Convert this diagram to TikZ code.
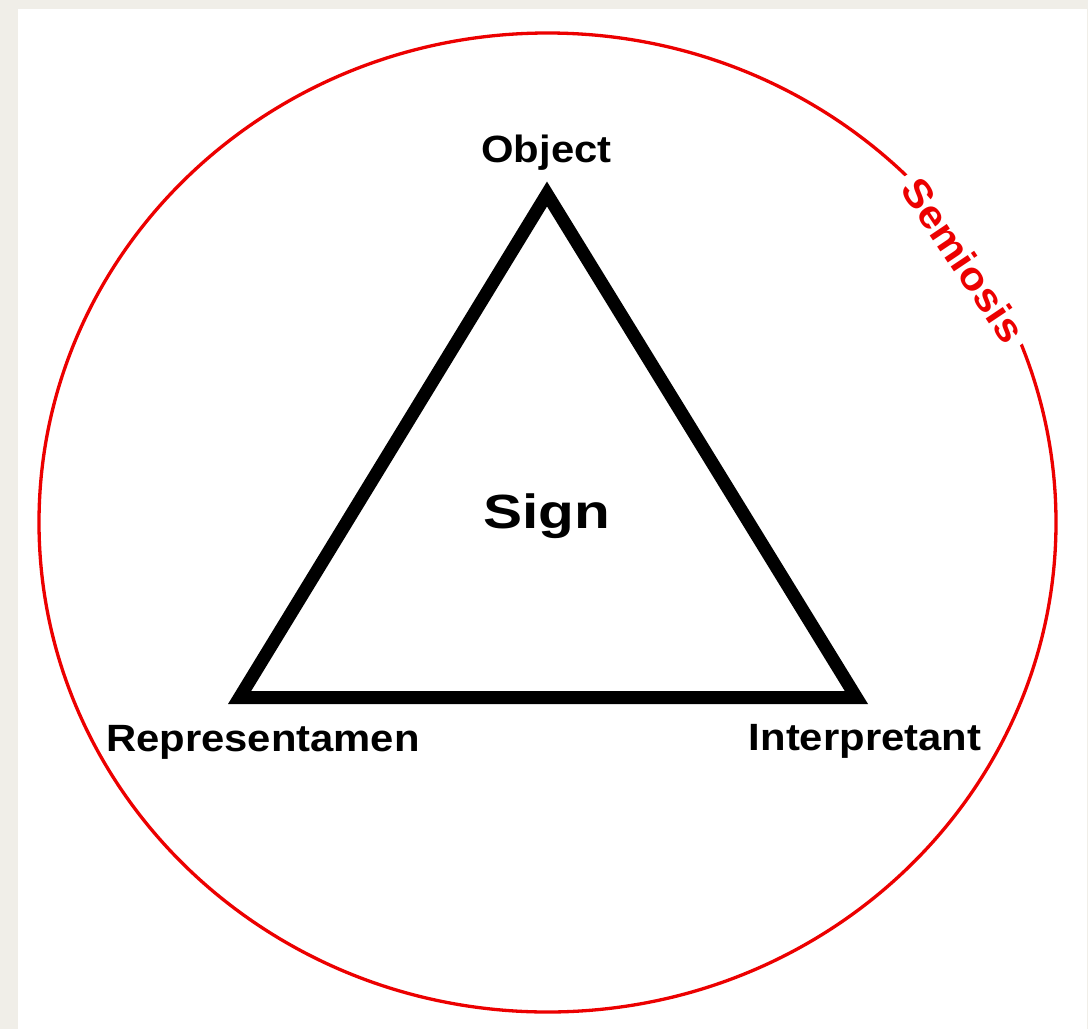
\documentclass[tikz,border=0pt]{standalone}
\usepackage{fontspec}
\setmainfont{Liberation Sans}
\definecolor{paper}{RGB}{240,238,232}
\definecolor{semred}{RGB}{236,0,0}
\newcommand{\widetext}[2]{\scalebox{#1}[1]{#2}}
\begin{document}
\begin{tikzpicture}[x=1pt,y=-1pt,
  lbl/.style={font=\fontsize{38}{44}\selectfont\bfseries, inner sep=0pt, anchor=base},
  bigl/.style={font=\fontsize{48}{56}\selectfont\bfseries, inner sep=0pt, anchor=base},
  ring/.style={draw=semred, line width=3.3pt},
  tri/.style={draw=black, line width=13pt, line join=miter},
  semlbl/.style={font=\fontsize{39}{45}\selectfont\bfseries, text=semred, fill=white,
                 inner xsep=8pt, inner ysep=2pt, rotate=-56.2}]
  \useasboundingbox (0,0) rectangle (1088,1029);
  \fill[paper] (0,0) rectangle (1088,1029);
  \fill[white] (18,9) rectangle (1087,1029);
  % semiosis ring
  \coordinate (c) at (547.5,522.5);
  \draw[ring] (c) ellipse [x radius=508.5, y radius=489.5];
  \node[semlbl] (sem) at (963.5,260) {\widetext{1.1}{Semiosis}};
  % triangle
  \coordinate (obj) at (547,194);
  \coordinate (rep) at (239.6,697.5);
  \coordinate (int) at (856.4,697.5);
  \draw[tri] (obj) -- (rep) -- (int) -- cycle;
  % labels
  \node[lbl] (objl) at (546.5,162) {\widetext{1.1}{Object}};
  \node[lbl] (repl) at (263,751) {\widetext{1.1}{Representamen}};
  \node[lbl] (intl) at (865,750) {\widetext{1.1}{Interpretant}};
  \node[bigl] (sign) at (546.5,528) {\widetext{1.22}{Sign}};
\end{tikzpicture}
\end{document}
